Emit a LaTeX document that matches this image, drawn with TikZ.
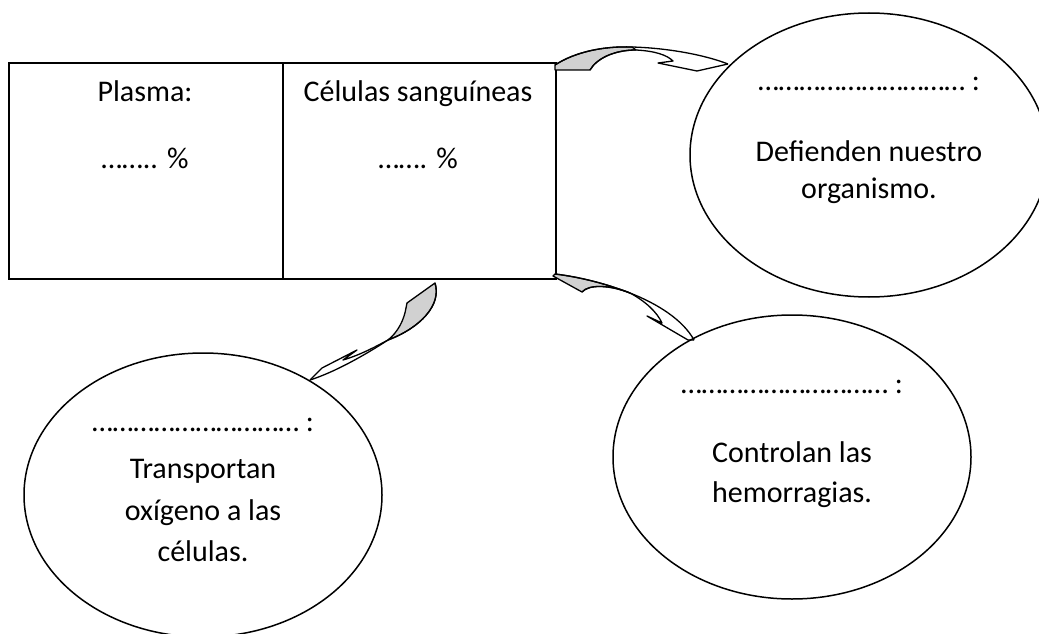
\documentclass[tikz,border=0pt]{standalone}
\usepackage{fontspec}
\setmainfont{Carlito}
\usetikzlibrary{shapes.geometric}
\begin{document}
\begin{tikzpicture}[x=1pt,y=-1pt,
  cell/.style={draw=black, line width=1.8pt, rectangle, minimum height=216pt, inner sep=0pt, anchor=north west},
  bubble/.style={draw=black, line width=1.5pt, ellipse, minimum width=358pt, minimum height=284pt, inner sep=0pt},
  txt/.style={font=\fontsize{30}{36}\selectfont, anchor=base, inner sep=0pt},
  arrowline/.style={draw=black, line width=1.3pt, line join=round},
  flap/.style={fill=black!18, draw=black, line width=1.3pt, line join=round}
]
\useasboundingbox (0,0) rectangle (1039,634);
\fill[white] (0,0) rectangle (1039,634);

% table
\node[cell, minimum width=274pt] (plasma) at (8,62) {};
\node[cell, minimum width=273pt] (celulas) at (282,62) {};
\node[txt] (tplasma) at (145,102) {Plasma:};
\node[txt] (pplasma) at (145,168) {…….. \%};
\node[txt] (tcel) at (418,102) {Células sanguíneas};
\node[txt] (pcel) at (418,168) {……. \%};

% ellipses
\node[bubble] (e1) at (869,155) {};
\node[bubble] (e2) at (792,457) {};
\node[bubble] (e3) at (203,495) {};

\node[txt] (d1) at (869,91) {………………………… :};
\node[txt] (l1a) at (869,161) {Defienden nuestro};
\node[txt] (l1b) at (869,198) {organismo.};

\node[txt] (d2) at (792,393) {………………………… :};
\node[txt] (l2a) at (792,462) {Controlan las};
\node[txt] (l2b) at (792,502) {hemorragias.};

\node[txt] (d3) at (203,431) {………………………… :};
\node[txt] (l3a) at (203,478) {Transportan};
\node[txt] (l3b) at (203,520) {oxígeno a las};
\node[txt] (l3c) at (203,561) {células.};

% arrow 1 : cells -> e1
\coordinate (a1s) at (555,65);
\coordinate (a1m) at (632,47);
\coordinate (a1t) at (728,64);
\path[flap] (a1s) .. controls (575,52) and (603,46) .. (a1m) -- (636,50)
  .. controls (615,50) and (597,58) .. (590,70) -- (555,70) -- cycle;
\path[arrowline] (a1s) .. controls (575,52) and (603,46) .. (a1m)
  .. controls (668,48) and (705,55) .. (a1t);
\path[arrowline] (590,70) .. controls (597,58) and (615,50) .. (636,50)
  .. controls (655,51) and (667,55) .. (673,61) -- (658,63) -- (697,71) -- (a1t);

% arrow 2 : cells -> e2
\coordinate (a2s) at (555,274);
\coordinate (a2m) at (630,293);
\coordinate (a2t) at (694,340);
\path[flap] (a2s) .. controls (580,277) and (607,284) .. (a2m)
  .. controls (610,285) and (589,284) .. (582,292) -- (553,276) -- cycle;
\path[arrowline] (a2s) .. controls (580,277) and (607,284) .. (a2m)
  .. controls (658,304) and (683,320) .. (a2t);
\path[arrowline] (582,292) .. controls (589,284) and (610,285) .. (a2m)
  .. controls (645,301) and (657,312) .. (662,323) -- (647,316) -- (688,340) -- (a2t);

% arrow 3 : cells -> e3
\coordinate (a3s) at (435,283);
\coordinate (a3m) at (388,340);
\coordinate (a3t) at (310,380);
\path[flap] (a3s) -- (407,303) -- (406,308) .. controls (404,320) and (398,332) .. (a3m)
  .. controls (420,328) and (442,305) .. (a3s) -- cycle;
\path[arrowline] (a3s) .. controls (442,305) and (420,328) .. (a3m)
  .. controls (365,355) and (335,372) .. (a3t);
\path[arrowline] (a3m) .. controls (375,347) and (360,355) .. (343,360) -- (357,350) -- (322,368) -- (a3t);
\end{tikzpicture}
\end{document}
